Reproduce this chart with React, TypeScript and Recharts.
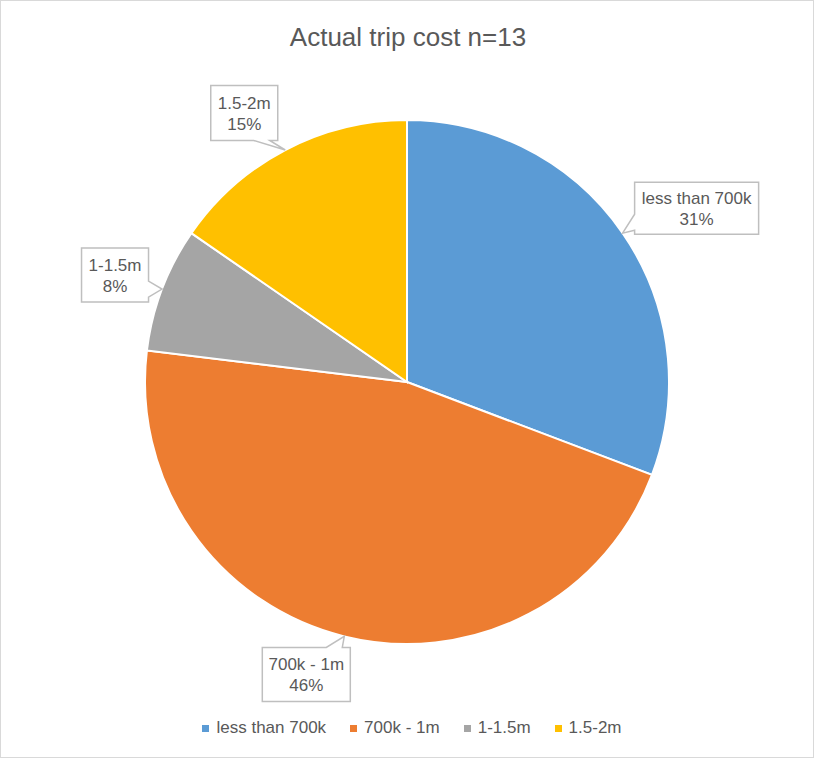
import React from 'react';
import { PieChart, Pie, Cell, Legend } from 'recharts';

const categories = ['less than 700k', '700k - 1m', '1-1.5m', '1.5-2m'];
const counts = [4, 6, 1, 2];
const sliceColors = ['#5B9BD5', '#ED7D31', '#A5A5A5', '#FFC000'];
const chartTitle = 'Actual trip cost n=13';

const data = categories.map((name, i) => ({ name, value: counts[i] }));

// callout box layout (offset of box centre from the slice edge point)
const calloutLayout = [
  { dx: 74, dy: -25, w: 124, h: 52, side: 'left' },
  { dx: -38, dy: 38, w: 88, h: 54, side: 'top' },
  { dx: -47, dy: -14, w: 67, h: 54, side: 'right' },
  { dx: -41, dy: -37, w: 67, h: 55, side: 'bottom' },
];

const FONT = '"Liberation Sans", Arial, sans-serif';
const TEXT = '#595959';

const clamp = (v: number, a: number, b: number) => Math.max(a, Math.min(b, v));

const renderCallout = (props: any) => {
  const { cx, cy, midAngle, outerRadius, index, percent, name } = props;
  const rad = Math.PI / 180;
  const tx = cx + outerRadius * Math.cos(-midAngle * rad);
  const ty = cy + outerRadius * Math.sin(-midAngle * rad);
  const b = calloutLayout[index];
  const bx = tx + b.dx;
  const by = ty + b.dy;
  const x0 = bx - b.w / 2;
  const x1 = bx + b.w / 2;
  const y0 = by - b.h / 2;
  const y1 = by + b.h / 2;
  const half = 8;
  let d = '';
  if (b.side === 'top') {
    const c = clamp(tx, x0 + 16, x1 - 16);
    d = `M${x0},${y0} L${c - half},${y0} L${tx},${ty} L${c + half},${y0} L${x1},${y0} L${x1},${y1} L${x0},${y1} Z`;
  } else if (b.side === 'bottom') {
    const c = clamp(tx, x0 + 16, x1 - 16);
    d = `M${x0},${y0} L${x1},${y0} L${x1},${y1} L${c + half},${y1} L${tx},${ty} L${c - half},${y1} L${x0},${y1} Z`;
  } else if (b.side === 'right') {
    const c = clamp(ty, y0 + 12, y1 - 12);
    d = `M${x0},${y0} L${x1},${y0} L${x1},${c - half} L${tx},${ty} L${x1},${c + half} L${x1},${y1} L${x0},${y1} Z`;
  } else {
    const c = clamp(ty, y0 + 12, y1 - 12);
    d = `M${x0},${y0} L${x1},${y0} L${x1},${y1} L${x0},${y1} L${x0},${c + half} L${tx},${ty} L${x0},${c - half} Z`;
  }
  return (
    <g key={`callout-${index}`}>
      <path d={d} fill="#FFFFFF" stroke="#BFBFBF" strokeWidth={1.5} />
      <text x={bx} y={by - 10} textAnchor="middle" dominantBaseline="central" fill={TEXT} fontSize={17} fontFamily={FONT}>
        {name}
      </text>
      <text x={bx} y={by + 11} textAnchor="middle" dominantBaseline="central" fill={TEXT} fontSize={17} fontFamily={FONT}>
        {`${Math.round(percent * 100)}%`}
      </text>
    </g>
  );
};

const renderLegend = (props: any) => {
  const payload = ([...(props.payload || [])] as any[]).sort(
    (a, b) => categories.indexOf(a.value) - categories.indexOf(b.value)
  );
  return (
    <div style={{ display: 'flex', justifyContent: 'center', alignItems: 'center', width: '100%', fontFamily: FONT, fontSize: 17, color: TEXT, paddingLeft: 10, boxSizing: 'border-box' }}>
      {payload.map((entry: any, i: number) => (
        <div key={`leg-${i}`} style={{ display: 'flex', alignItems: 'center', marginRight: i < payload.length - 1 ? 24 : 0 }}>
          <span style={{ display: 'inline-block', width: 7, height: 7, background: entry.color || sliceColors[categories.indexOf(entry.value)], marginRight: 7 }} />
          <span>{entry.value}</span>
        </div>
      ))}
    </div>
  );
};

export default function App() {
  return (
    <div style={{ position: 'absolute', left: 0, top: 0, width: 814, height: 758, background: '#FFFFFF', boxSizing: 'border-box', border: '1px solid #D9D9D9' }}>
      <div style={{ position: 'absolute', left: 0, top: 21, width: 814, textAlign: 'center', fontFamily: FONT, fontSize: 26, lineHeight: '30px', color: TEXT }}>
        {chartTitle}
      </div>
      <div style={{ position: 'absolute', left: -1, top: -1 }}>
        <PieChart width={814} height={758} margin={{ top: 0, right: 0, bottom: 0, left: 0 }}>
          <Pie
            data={data}
            dataKey="value"
            nameKey="name"
            cx={407}
            cy={382}
            outerRadius={262}
            startAngle={90}
            endAngle={-270}
            stroke="#FFFFFF"
            strokeWidth={2}
            label={renderCallout}
            labelLine={false}
            isAnimationActive={false}
          >
            {data.map((_, i) => (
              <Cell key={`cell-${i}`} fill={sliceColors[i]} />
            ))}
          </Pie>
          <Legend content={renderLegend} wrapperStyle={{ position: 'absolute', left: 0, top: 718, width: 814, height: 26 }} />
        </PieChart>
      </div>
    </div>
  );
}
